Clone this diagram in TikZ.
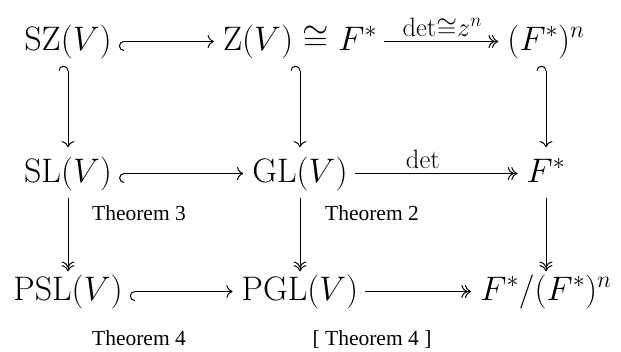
\RequirePackage{fix-cm}
\documentclass[tikz,border=0pt]{standalone}
\usepackage{fontspec}
\newfontfamily\thmfont{Liberation Serif}
\usetikzlibrary{cd,arrows.meta}
\begin{document}
\begin{tikzpicture}[x=1pt,y=-1pt,
  obj/.style={anchor=base, inner sep=0pt, font=\fontsize{34}{40}\selectfont,
              text height=25.5pt, text depth=8.5pt},
  thm/.style={anchor=base, inner sep=0pt, font=\thmfont\fontsize{21.5}{24}\selectfont},
  arr/.style={line width=1pt, shorten <=7pt, shorten >=9pt},
  hookar/.style={arr, {Hooks[arc=180,left,length=5pt,width=19pt]}-cm to},
  epiar/.style={arr, -cm double to},
  lab/.style={font=\fontsize{38}{44}\selectfont, inner sep=4pt}
]
\useasboundingbox (0,0) rectangle (621,351);
% nodes
\node[obj] (a1) at (68,50)  {$\mathrm{SZ}(V)$};
\node[obj] (a2) at (300,50) {$\mathrm{Z}(V)\cong F^*$};
\node[obj] (a3) at (546,50) {$(F^*)^n$};
\node[obj] (b1) at (68,182)  {$\mathrm{SL}(V)$};
\node[obj] (b2) at (300,182) {$\mathrm{GL}(V)$};
\node[obj] (b3) at (546,182) {$F^*$};
\node[obj] (c1) at (68,300)  {$\mathrm{PSL}(V)$};
\node[obj] (c2) at (300,300) {$\mathrm{PGL}(V)$};
\node[obj] (c3) at (546,300) {$F^*/(F^*)^n$};
% theorem labels
\node[thm] (t3) at (139,220) {Theorem 3};
\node[thm] (t2) at (372,220) {Theorem 2};
\node[thm] (t4) at (139,345) {Theorem 4};
\node[thm] (t4b) at (372,345) {[ Theorem 4 ]};
% horizontal arrows
\draw[hookar] (a1) -- (a2);
\draw[epiar] (a2) -- node[lab, above] {$\scriptstyle\det\cong z^n$} (a3);
\draw[hookar] (b1) -- (b2);
\draw[epiar] (b2) -- node[lab, above, pos=0.42] {$\scriptstyle\det$} (b3);
\draw[hookar] (c1) -- (c2);
\draw[epiar] (c2) -- (c3);
% vertical arrows
\draw[hookar] (a1) -- (b1);
\draw[hookar] (a2) -- (b2);
\draw[hookar] (a3) -- (b3);
\draw[epiar, shorten >=3pt] (b1) -- (c1);
\draw[epiar, shorten >=3pt] (b2) -- (c2);
\draw[epiar, shorten >=3pt] (b3) -- (c3);
\end{tikzpicture}
\end{document}
